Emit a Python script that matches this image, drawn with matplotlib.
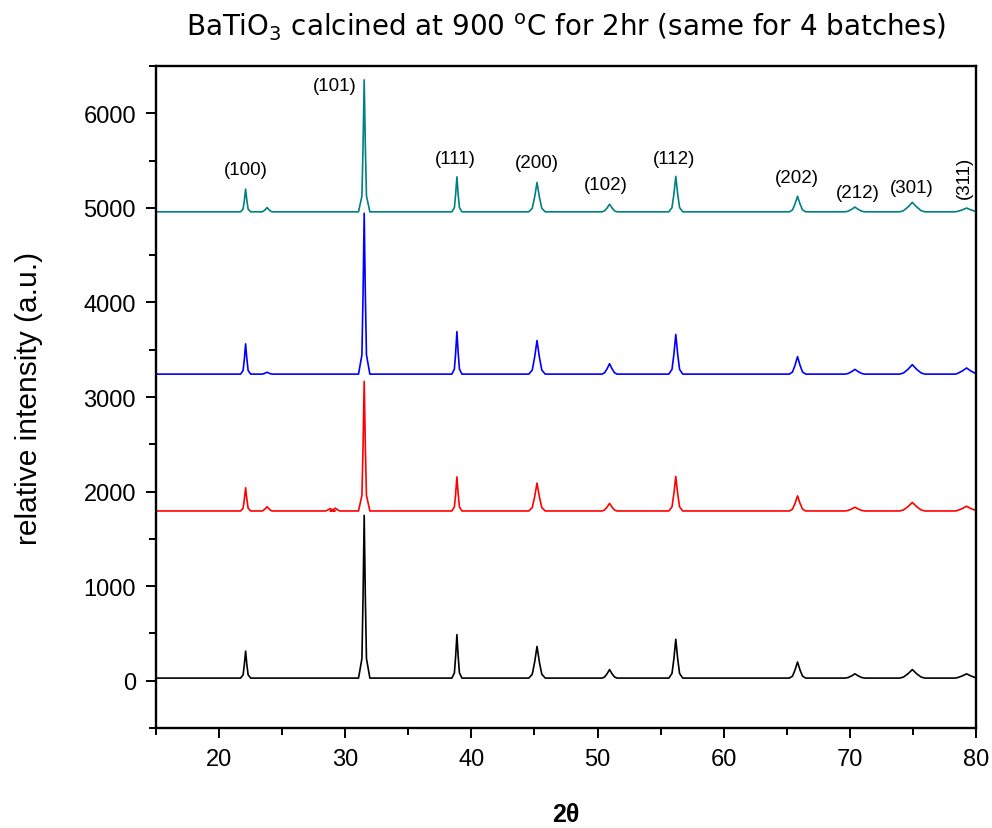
import matplotlib
matplotlib.use("Agg")
import matplotlib.pyplot as plt
from matplotlib.ticker import MultipleLocator

plt.rcParams['font.family'] = ['Liberation Sans', 'DejaVu Sans']
plt.rcParams['mathtext.fontset'] = 'custom'
plt.rcParams['mathtext.rm'] = 'DejaVu Sans'
plt.rcParams['mathtext.it'] = 'DejaVu Sans:italic'
plt.rcParams['mathtext.bf'] = 'DejaVu Sans:bold'

# Reflection positions (2theta, deg) and approximate peak widths
hkl = ["(100)", "(101)", "(111)", "(200)", "(102)", "(112)", "(202)", "(212)", "(301)", "(311)"]
peak_pos = [22.1, 31.5, 38.85, 45.2, 50.95, 56.2, 65.85, 70.4, 74.95, 79.25]
peak_fwhm = [0.2, 0.18, 0.2, 0.38, 0.4, 0.3, 0.4, 0.55, 0.7, 0.7]
peak_foot = [0.4, 0.45, 0.4, 0.65, 0.6, 0.55, 0.65, 0.8, 1.0, 0.9]

# Baseline level and peak heights above baseline for each batch
base_black = 28
height_black = [285, 1720, 460, 335, 90, 410, 170, 45, 90, 45]
base_red = 1795
height_red = [245, 1370, 360, 295, 80, 365, 160, 40, 90, 50]
base_blue = 3242
height_blue = [320, 1700, 450, 355, 110, 420, 185, 50, 100, 65]
base_teal = 4958
height_teal = [240, 1395, 370, 310, 80, 375, 165, 50, 100, 40]

# weak extra bumps (position, height)
bumps_black = []
bumps_red = [(23.8, 45), (28.8, 25), (29.2, 30)]
bumps_blue = [(23.8, 20)]
bumps_teal = [(23.8, 45)]

# label positions for the top pattern
label_x = [22.1, 29.15, 38.75, 45.2, 50.65, 56.1, 65.8, 70.6, 74.9, 79.07]
label_y = [5410, 6295, 5518, 5482, 5252, 5518, 5323, 5164, 5217, 5323]

x_min, x_max = 15, 80


def pattern(base, heights, bumps):
    peaks = [(p, h, w, f) for p, h, w, f in zip(peak_pos, heights, peak_fwhm, peak_foot)]
    peaks += [(p, h, 0.3, 0.4) for p, h in bumps]
    peaks.sort()
    xs = [x_min]
    ys = [base]
    for p, h, w, f in peaks:
        xs += [p - f, p - w, p - w / 2, p, p + w / 2, p + w, p + f]
        ys += [base, base + 0.12 * h, base + 0.5 * h, base + h,
               base + 0.5 * h, base + 0.12 * h, base]
    xs.append(x_max)
    ys.append(base)
    return xs, ys


fig = plt.figure(figsize=(9.92, 8.29), dpi=100)
ax = fig.add_axes([0.1573, 0.1206, 0.8266, 0.7986])

series = [
    (base_black, height_black, bumps_black, "black"),
    (base_red, height_red, bumps_red, "#ff0000"),
    (base_blue, height_blue, bumps_blue, "#0000ff"),
    (base_teal, height_teal, bumps_teal, "#008080"),
]
for base, heights, bumps, color in series:
    xs, ys = pattern(base, heights, bumps)
    ax.plot(xs, ys, color=color, lw=1.2)

for lab, x, y in zip(hkl, label_x, label_y):
    rot = 90 if lab == "(311)" else 0
    ax.text(x, y, lab, ha="center", va="center", fontsize=13.5, rotation=rot)

ax.set_xlim(x_min, x_max)
ax.set_ylim(-500, 6500)
ax.xaxis.set_major_locator(MultipleLocator(10))
ax.xaxis.set_minor_locator(MultipleLocator(5))
ax.yaxis.set_major_locator(MultipleLocator(1000))
ax.yaxis.set_minor_locator(MultipleLocator(500))
ax.tick_params(which="major", direction="out", length=7.5, width=1.4, labelsize=17, pad=7)
ax.tick_params(which="minor", direction="out", length=5, width=1.4)
for sp in ax.spines.values():
    sp.set_linewidth(1.7)

ax.set_xlabel("2θ", fontsize=18, fontweight="bold", labelpad=23)
ax.set_ylabel("relative intensity (a.u.)", fontsize=21.5, labelpad=29)
ax.set_title(r"BaTiO$_3$ calcined at 900 $^{\mathrm{o}}$C for 2hr (same for 4 batches)",
             fontsize=20, family="DejaVu Sans", pad=22)

fig.savefig("out.png", dpi=100)
